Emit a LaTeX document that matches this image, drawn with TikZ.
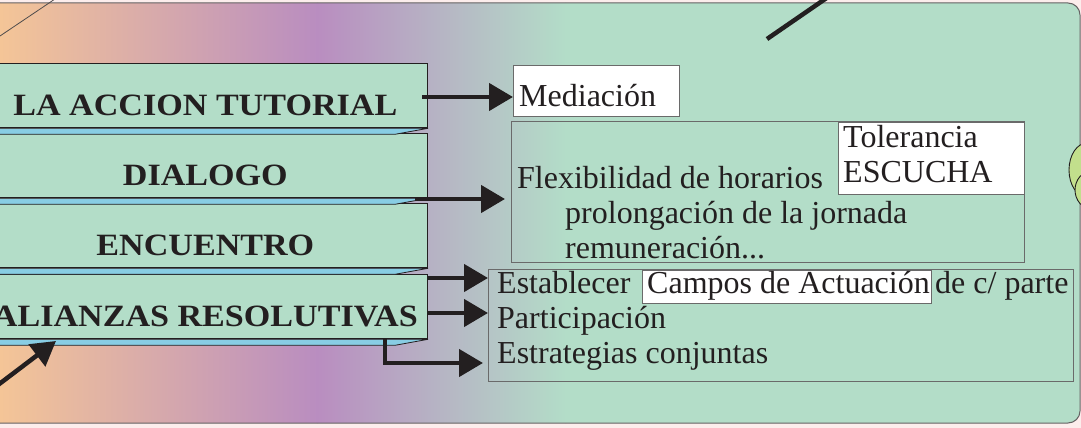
\documentclass[tikz,border=0pt]{standalone}
\usepackage{fontspec}
\setmainfont{Liberation Serif}
\newfontfamily\bannerfont[FakeStretch=1.1]{Liberation Serif}
\usepackage{tikz}
\usetikzlibrary{arrows.meta,positioning,calc}
\definecolor{pagepink}{HTML}{FCEDEC}
\definecolor{peach}{HTML}{F4C597}
\definecolor{mauve}{HTML}{B98DC0}
\definecolor{mint}{HTML}{B3DDC8}
\definecolor{skyedge}{HTML}{88CDE4}
\definecolor{ink}{HTML}{231F20}
\definecolor{frame}{HTML}{6A6A6A}
\definecolor{leafgreen}{HTML}{C2DF8C}
\tikzset{
  banner/.style={draw=ink, line width=1.3pt, fill=mint, minimum width=444pt, minimum height=64pt,
    inner sep=0pt, anchor=north east, text height=44pt, text depth=4pt, text=ink,
    font={\bannerfont\bfseries\fontsize{31}{31}\selectfont}},
  edgestrip/.style={draw=ink, line width=0.8pt, fill=skyedge},
  panel/.style={draw=frame, line width=1pt, inner sep=0pt, anchor=north west},
  whitepanel/.style={panel, fill=white},
  label/.style={anchor=base west, inner sep=0pt, text=ink, font={\fontsize{32}{32}\selectfont}},
  bigarrow/.style={draw=ink, line width=4.5pt, -{Triangle[length=24pt,width=27pt]}}
}
\begin{document}
\begin{tikzpicture}[x = 1pt, y = -1pt]
\useasboundingbox (0,0) rectangle (1081,428);
\clip (0,0) rectangle (1081,428);
\fill[pagepink] (-10,-10) rectangle (1090,440);

\begin{scope}
\clip[rounded corners=12pt] (-40,3) rectangle (1080,423);
\fill[peach] (-40,0) rectangle (1,430);
\shade[left color=peach, right color=mauve] (0,0) rectangle (318,430);
\shade[left color=mauve, right color=mint] (317,0) rectangle (566,430);
\fill[mint] (565,0) rectangle (1090,430);
\end{scope}
\draw[draw=ink!70, line width=1pt, rounded corners=12pt] (-40,3) rectangle (1080,423);

\coordinate (tl) at (0,36);
\coordinate (tr) at (55,-1);
\draw[ink!80, line width=0.8pt] (tl) -- (tr);
\coordinate (up1) at (767,39);
\coordinate (up2) at (828,-3);
\draw[ink, line width=4.5pt] (up1) -- (up2);

\node[banner] (b1) at (428,63) {LA ACCION TUTORIAL};
\node[banner] (b2) at (428,133) {DIALOGO};
\node[banner] (b3) at (428,203) {ENCUENTRO};
\node[banner] (b4) at (428,274) {ALIANZAS RESOLUTIVAS};
\draw[edgestrip] (b1.south east) -- ++(-33,6) -- ($(b1.south west)+(0,6)$) -- (b1.south west) -- cycle;
\draw[edgestrip] (b2.south east) -- ++(-33,6) -- ($(b2.south west)+(0,6)$) -- (b2.south west) -- cycle;
\draw[edgestrip] (b3.south east) -- ++(-33,6) -- ($(b3.south west)+(0,6)$) -- (b3.south west) -- cycle;
\draw[edgestrip] (b4.south east) -- ++(-33,6) -- ($(b4.south west)+(0,6)$) -- (b4.south west) -- cycle;

\node[whitepanel, minimum width=166pt, minimum height=51pt] (med) at (513,65) {};
\node[label] (medtext) at (519,106) {Mediación};

\node[panel, minimum width=513pt, minimum height=141pt] (flex) at (511,121) {};
\node[whitepanel, minimum width=186pt, minimum height=72pt] (tol) at (838,122) {};
\node[label] (toltext) at (843,147) {Tolerancia};
\node[label] (escucha) at (843,182) {ESCUCHA};
\node[label] (flextext) at (517,188) {Flexibilidad de horarios};
\node[label] (prolong) at (565,223) {prolongación de la jornada};
\node[label] (remun) at (565,258) {remuneración...};

\node[panel, minimum width=585pt, minimum height=112pt] (act) at (488,269) {};
\node[whitepanel, minimum width=289pt, minimum height=33pt] (campos) at (642,270) {};
\node[label] (establecer) at (497,293) {Establecer};
\node[label] (campostext) at (647,293) {Campos de Actuación};
\node[label] (parte) at (935,293) {de c/ parte};
\node[label] (particip) at (497,328) {Participación};
\node[label] (estrat) at (497,363) {Estrategias conjuntas};

\coordinate (s1) at (422,97);
\coordinate (s2) at (415,199);
\coordinate (s3) at (428,278);
\coordinate (s4) at (428,313);
\coordinate (s5) at (385,338);
\coordinate (s5e) at (385,363);
\coordinate (s6) at (-10,391);
\coordinate (e6) at (56,341);
\draw[bigarrow] (s1) -- (s1 -| med.west);
\draw[bigarrow, shorten >=6pt] (s2) -- (s2 -| flex.west);
\draw[bigarrow] (s3) -- (s3 -| act.west);
\draw[bigarrow] (s4) -- (s4 -| act.west);
\draw[bigarrow, shorten >=5pt] (s5) |- (s5e -| act.west);
\draw[bigarrow] (s6) -- (e6);

\draw[draw=ink, line width=0.9pt, fill=leafgreen] (1087,170) ellipse [x radius=18, y radius=27];
\draw[draw=ink, line width=0.9pt, fill=leafgreen] (1092,190) ellipse [x radius=17, y radius=19];
\end{tikzpicture}
\end{document}
